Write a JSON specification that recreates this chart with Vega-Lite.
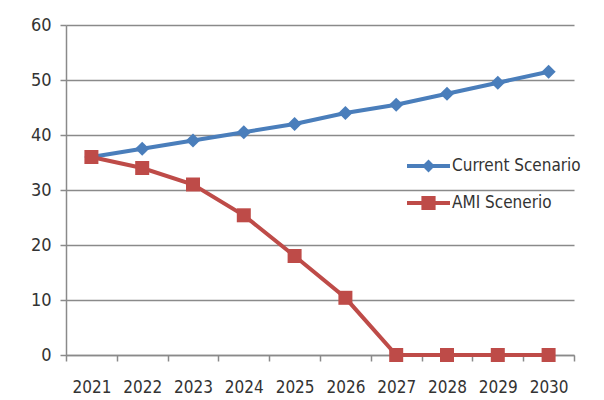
{
  "$schema": "https://vega.github.io/schema/vega-lite/v6.json",
  "width": 508,
  "height": 330,
  "autosize": "none",
  "padding": {"left": 66, "top": 25, "right": 30, "bottom": 45},
  "background": "white",
  "config": {
    "view": {"stroke": null},
    "font": "DejaVu Sans Condensed, sans-serif"
  },
  "data": {
    "values": [
      {"year": "2021", "scenario": "Current Scenario", "value": 36},
      {"year": "2022", "scenario": "Current Scenario", "value": 37.5},
      {"year": "2023", "scenario": "Current Scenario", "value": 39},
      {"year": "2024", "scenario": "Current Scenario", "value": 40.5},
      {"year": "2025", "scenario": "Current Scenario", "value": 42},
      {"year": "2026", "scenario": "Current Scenario", "value": 44},
      {"year": "2027", "scenario": "Current Scenario", "value": 45.5},
      {"year": "2028", "scenario": "Current Scenario", "value": 47.5},
      {"year": "2029", "scenario": "Current Scenario", "value": 49.5},
      {"year": "2030", "scenario": "Current Scenario", "value": 51.5},
      {"year": "2021", "scenario": "AMI Scenerio", "value": 36},
      {"year": "2022", "scenario": "AMI Scenerio", "value": 34},
      {"year": "2023", "scenario": "AMI Scenerio", "value": 31},
      {"year": "2024", "scenario": "AMI Scenerio", "value": 25.4},
      {"year": "2025", "scenario": "AMI Scenerio", "value": 18},
      {"year": "2026", "scenario": "AMI Scenerio", "value": 10.4},
      {"year": "2027", "scenario": "AMI Scenerio", "value": 0},
      {"year": "2028", "scenario": "AMI Scenerio", "value": 0},
      {"year": "2029", "scenario": "AMI Scenerio", "value": 0},
      {"year": "2030", "scenario": "AMI Scenerio", "value": 0}
    ]
  },
  "encoding": {
    "x": {
      "field": "year",
      "type": "ordinal",
      "scale": {"type": "band", "paddingInner": 0, "paddingOuter": 0},
      "axis": {
        "title": null,
        "labelAngle": 0,
        "tickBand": "extent",
        "grid": false,
        "domainColor": "#8a8a8a",
        "domainWidth": 1.5,
        "tickColor": "#8a8a8a",
        "tickWidth": 1.5,
        "tickSize": 6,
        "labelFontSize": 17,
        "labelColor": "#333333",
        "labelPadding": 18
      }
    },
    "y": {
      "field": "value",
      "type": "quantitative",
      "scale": {"domain": [0, 60], "nice": false},
      "axis": {
        "title": null,
        "values": [0, 10, 20, 30, 40, 50, 60],
        "grid": true,
        "gridColor": "#8a8a8a",
        "gridWidth": 1.5,
        "domainColor": "#8a8a8a",
        "domainWidth": 1.5,
        "tickColor": "#8a8a8a",
        "tickWidth": 1.5,
        "tickSize": 6,
        "labelFontSize": 18,
        "labelColor": "#333333",
        "labelPadding": 9
      }
    }
  },
  "layer": [
    {
      "mark": {"type": "line", "strokeWidth": 4},
      "encoding": {
        "stroke": {
          "field": "scenario",
          "type": "nominal",
          "scale": {"domain": ["Current Scenario", "AMI Scenerio"], "range": ["#4a7ebb", "#be4b48"]},
          "legend": {
            "orient": "none",
            "legendX": 341,
            "legendY": 119.5,
            "title": null,
            "padding": 0,
            "symbolType": "M-1,-0.09H1V0.09H-1Z",
            "symbolSize": 1849,
            "symbolStrokeWidth": 0,
            "labelFontSize": 17,
            "labelColor": "#333333",
            "labelOffset": 2,
            "rowPadding": 7,
            "encode": {
              "symbols": {
                "update": {
                  "shape": {
                    "signal": "datum.value === 'Current Scenario' ? 'M-1,-0.09H1V0.09H-1Z M0,-0.3L0.3,0L0,0.3L-0.3,0Z' : 'M-1,-0.09H1V0.09H-1Z M-0.33,-0.33H0.33V0.33H-0.33Z'"
                  },
                  "fill": {
                    "signal": "datum.value === 'Current Scenario' ? '#4a7ebb' : '#be4b48'"
                  },
                  "fillOpacity": {"value": 1},
                  "strokeWidth": {"value": 0}
                }
              }
            }
          }
        }
      }
    },
    {
      "transform": [{"filter": "datum.scenario === 'Current Scenario'"}],
      "mark": {"type": "point", "shape": "diamond", "filled": true, "opacity": 1, "size": 200, "color": "#4a7ebb"}
    },
    {
      "transform": [{"filter": "datum.scenario === 'AMI Scenerio'"}],
      "mark": {"type": "point", "shape": "square", "filled": true, "opacity": 1, "size": 196, "color": "#be4b48"}
    }
  ]
}
